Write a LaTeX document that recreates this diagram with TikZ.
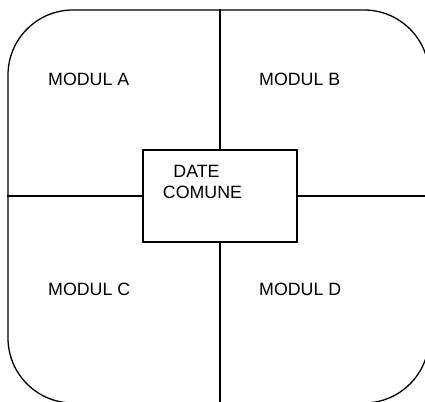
\documentclass[tikz,border=0pt]{standalone}
\usepackage{fontspec}
\setmainfont{Liberation Sans}
\begin{document}
\begin{tikzpicture}[x=1pt,y=-1pt,
  line/.style={line width=1.3pt,black},
  lbl/.style={inner sep=0pt,anchor=base west,font=\fontsize{17.8}{21}\selectfont}]
\useasboundingbox (0,0) rectangle (425,401);
\clip (0,0) rectangle (425,401);
\node[line,draw,rounded corners=65pt,minimum width=421pt,minimum height=393pt,inner sep=0pt] (outer) at (218.5,206.5) {};
\node[line,draw,minimum width=154pt,minimum height=92pt,inner sep=0pt] (box) at (220,196) {};
\node[inner sep=0pt,align=center,font=\fontsize{17.8}{21}\selectfont] (boxtext) at (202.5,181.5) {DATE\hspace*{12pt}\\COMUNE};
\draw[line] (box.north) -- (box.north |- outer.north);
\draw[line] (box.south) -- (box.south |- outer.south);
\draw[line] (box.west) -- (box.west -| outer.west);
\draw[line] (box.east) -- (box.east -| outer.east);
\node[lbl] (ma) at (48,85) {MODUL A};
\node[lbl] (mb) at (259,85) {MODUL B};
\node[lbl] (mc) at (48,295) {MODUL C};
\node[lbl] (md) at (259,295) {MODUL D};
\end{tikzpicture}
\end{document}
